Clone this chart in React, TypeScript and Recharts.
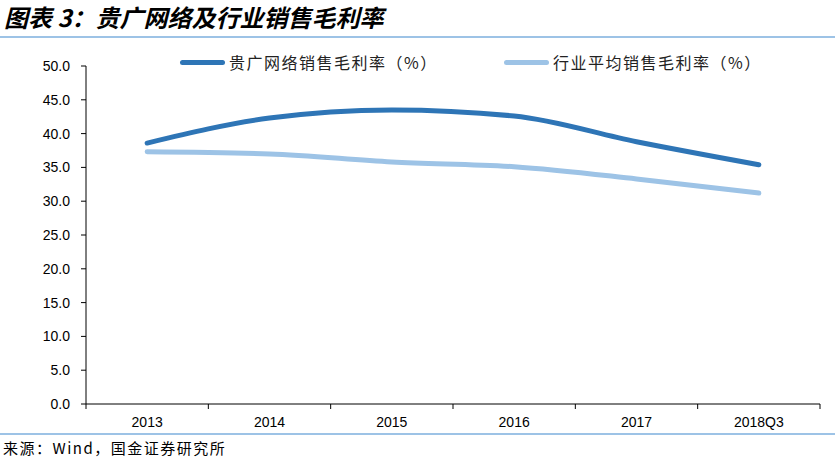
import React from "react";
import { LineChart, Line, XAxis, YAxis, Legend } from "recharts";

const categories = ["2013", "2014", "2015", "2016", "2017", "2018Q3"];
const guiguangMargin = [38.6, 42.3, 43.5, 42.6, 38.8, 35.4];
const industryMargin = [37.3, 37.0, 35.8, 35.1, 33.3, 31.2];
const yTicks = [0, 5, 10, 15, 20, 25, 30, 35, 40, 45, 50];

const seriesNames = ["贵广网络销售毛利率（%）", "行业平均销售毛利率（%）"];
const DARK = "#2e75b6";
const LIGHT = "#9dc3e6";

const data = categories.map((c, i) => ({
  name: c,
  gg: guiguangMargin[i],
  hy: industryMargin[i],
}));

const W = 835;
const CHART_H = 434;
const Y_AXIS_W = 86;
const RIGHT = 15;
const band = (W - Y_AXIS_W - RIGHT) / categories.length;

const numFont = "'Liberation Sans', Arial, sans-serif";
const cjkFont = "'Noto Sans CJK SC', 'Liberation Sans', sans-serif";

const XTick = (props: any) => {
  const { x, y, payload, index } = props;
  const last = index === categories.length - 1;
  return (
    <g>
      <line x1={x - band / 2} x2={x - band / 2} y1={y - 8} y2={y - 3} stroke="#000" />
      {last && <line x1={x + band / 2} x2={x + band / 2} y1={y - 8} y2={y - 3} stroke="#000" />}
      <text x={x} y={y + 15} textAnchor="middle" fontSize={14} fontFamily={numFont} fill="#000">
        {payload.value}
      </text>
    </g>
  );
};

const LegendContent = () => (
  <div style={{ position: "relative", height: 20, fontFamily: cjkFont, fontSize: 16, letterSpacing: 1.5, color: "#222" }}>
    {[
      { name: seriesNames[0], color: DARK, left: 180 },
      { name: seriesNames[1], color: LIGHT, left: 504 },
    ].map((it) => (
      <div key={it.name} style={{ position: "absolute", left: it.left, top: 0, display: "flex", alignItems: "center", whiteSpace: "nowrap" }}>
        <span style={{ display: "inline-block", width: 45, height: 5, borderRadius: 3, background: it.color, marginRight: 4 }} />
        <span>{it.name}</span>
      </div>
    ))}
  </div>
);

export default function App() {
  return (
    <div style={{ position: "absolute", left: 0, top: 0, width: W, height: 459, background: "#fff", overflow: "hidden" }}>
      <div
        style={{
          position: "absolute",
          left: 4,
          top: 3,
          fontFamily: cjkFont,
          fontWeight: 700,
          fontStyle: "italic",
          fontSize: 24,
          lineHeight: "28px",
          color: "#000",
          whiteSpace: "nowrap",
        }}
      >
        图表 3：贵广网络及行业销售毛利率
      </div>
      <div style={{ position: "absolute", left: 0, top: 36, width: W, height: 2, background: LIGHT }} />
      <div style={{ position: "absolute", left: 0, top: 0 }}>
        <LineChart width={W} height={CHART_H} data={data} margin={{ top: 46, right: RIGHT, bottom: 0, left: 0 }}>
          <Legend verticalAlign="top" height={20} content={<LegendContent />} wrapperStyle={{ top: 50, left: 0, width: W }} />
          <YAxis
            width={Y_AXIS_W}
            domain={[0, 50]}
            ticks={yTicks}
            interval={0}
            tickFormatter={(v: number) => v.toFixed(1)}
            axisLine={{ stroke: "#000" }}
            tickLine={{ stroke: "#000" }}
            tickSize={5}
            tickMargin={11}
            tick={{ fontSize: 14, fontFamily: numFont, fill: "#000" }}
          />
          <XAxis
            dataKey="name"
            height={30}
            interval={0}
            padding={{ left: band / 2, right: band / 2 }}
            axisLine={{ stroke: "#000" }}
            tickLine={false}
            tick={<XTick />}
          />
          <Line type="monotone" dataKey="gg" stroke={DARK} strokeWidth={5} dot={false} strokeLinecap="round" isAnimationActive={false} />
          <Line type="monotone" dataKey="hy" stroke={LIGHT} strokeWidth={5} dot={false} strokeLinecap="round" isAnimationActive={false} />
        </LineChart>
      </div>
      <div style={{ position: "absolute", left: 0, top: 433, width: W, height: 2, background: LIGHT }} />
      <div style={{ position: "absolute", left: 3, top: 437, fontFamily: cjkFont, fontSize: 15, letterSpacing: 1.5, color: "#000", whiteSpace: "nowrap" }}>
        来源：Wind，国金证券研究所
      </div>
    </div>
  );
}
